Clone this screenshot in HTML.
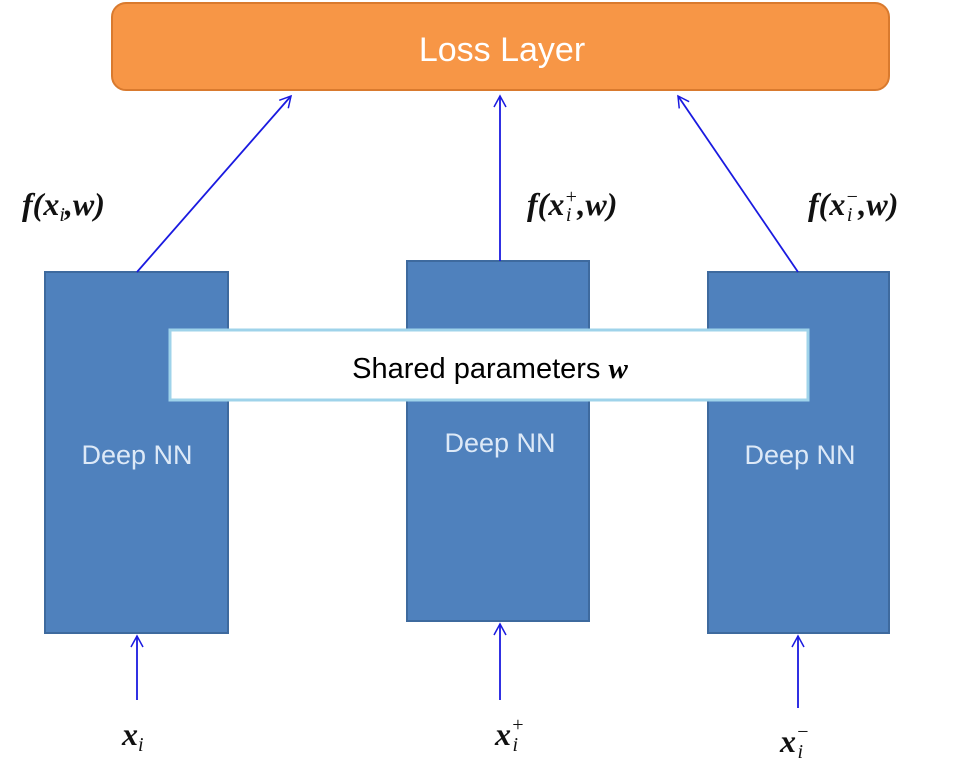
<!DOCTYPE html>
<html><head><meta charset="utf-8"><style>
html,body{margin:0;padding:0;background:#fff;}
svg{display:block;}
</style></head><body>
<svg width="963" height="771" viewBox="0 0 963 771" xmlns="http://www.w3.org/2000/svg">
<defs>
<marker id="a" markerWidth="14" markerHeight="14" refX="12" refY="7" orient="auto" markerUnits="userSpaceOnUse">
<path d="M1,1 L12,7 L1,13" fill="none" stroke="#1a1ae0" stroke-width="1.5"/>
</marker>
</defs>
<rect x="112" y="3" width="777" height="87" rx="14" fill="#F79646" stroke="#D97A2E" stroke-width="2"/>
<text x="502" y="61" text-anchor="middle" font-family="Liberation Sans, sans-serif" font-size="34" fill="#fff">Loss Layer</text>

<rect x="45" y="272" width="183" height="361" fill="#4F81BD" stroke="#3E6A9E" stroke-width="2"/>
<rect x="407" y="261" width="182" height="360" fill="#4F81BD" stroke="#3E6A9E" stroke-width="2"/>
<rect x="708" y="272" width="181" height="361" fill="#4F81BD" stroke="#3E6A9E" stroke-width="2"/>

<rect x="170" y="330" width="638" height="70" fill="#fff" stroke="#9fd3ea" stroke-width="3"/>
<text x="490" y="378" text-anchor="middle" font-family="Liberation Sans, sans-serif" font-size="29" fill="#000">Shared parameters <tspan font-family="Liberation Serif, serif" font-style="italic" font-weight="bold">w</tspan></text>

<g font-family="Liberation Sans, sans-serif" font-size="27" fill="#dde9f7" text-anchor="middle">
<text x="137" y="464">Deep NN</text>
<text x="500" y="452">Deep NN</text>
<text x="800" y="464">Deep NN</text>
</g>

<g stroke="#1a1ae0" stroke-width="1.8" marker-end="url(#a)">
<line x1="137" y1="272" x2="291" y2="96"/>
<line x1="500" y1="261" x2="500" y2="96"/>
<line x1="798" y1="272" x2="678" y2="96"/>
<line x1="137" y1="700" x2="137" y2="636"/>
<line x1="500" y1="700" x2="500" y2="624"/>
<line x1="798" y1="708" x2="798" y2="636"/>
</g>

<g font-family="Liberation Serif, serif" font-style="italic" font-weight="bold" font-size="32" fill="#111">
<text x="22" y="215">f(x<tspan font-size="20" dy="6" font-weight="normal">i</tspan><tspan dy="-6">,w)</tspan></text>
<text x="527" y="215">f(x<tspan font-size="20" dy="-12" font-weight="normal">+</tspan><tspan font-size="20" dx="-12" dy="18" font-weight="normal">i</tspan><tspan dy="-6" dx="6">,w)</tspan></text>
<text x="808" y="215">f(x<tspan font-size="20" dy="-12" font-weight="normal">−</tspan><tspan font-size="20" dx="-12" dy="18" font-weight="normal">i</tspan><tspan dy="-6" dx="6">,w)</tspan></text>
<text x="122" y="745">x<tspan font-size="20" dy="6" font-weight="normal">i</tspan></text>
<text x="495" y="745">x<tspan font-size="20" dy="-14" font-weight="normal">+</tspan><tspan font-size="20" dx="-12" dy="20" font-weight="normal">i</tspan></text>
<text x="780" y="752">x<tspan font-size="20" dy="-14" font-weight="normal">−</tspan><tspan font-size="20" dx="-12" dy="20" font-weight="normal">i</tspan></text>
</g>
</svg>
</body></html>
